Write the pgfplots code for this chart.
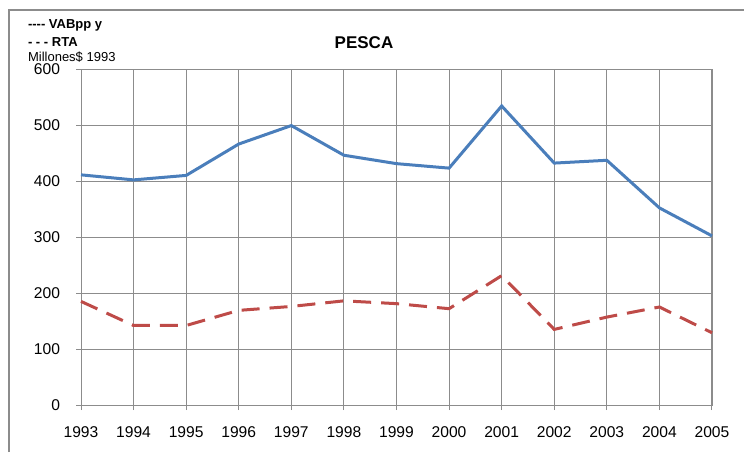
\documentclass[border=0pt]{standalone}
\usepackage{fontspec}
\setmainfont{Liberation Sans}
\usepackage{pgfplots}
\pgfplotsset{compat=1.18}

\definecolor{vabblue}{HTML}{4A7EBB}
\definecolor{rtared}{HTML}{BE4B48}
\definecolor{gridgray}{HTML}{8C8C8C}

\begin{document}
\begin{tikzpicture}[x=0.5pt,y=0.5pt]
\useasboundingbox (0,0) rectangle (744,452);
% outer chart frame (only top and left edges visible)
\draw[gridgray, line width=0.8pt] (9,0) -- (9,442) -- (744,442);

\begin{axis}[
    at={(40.5pt,23.5pt)}, anchor=south west,
    scale only axis, width=315.5pt, height=168pt,
    xmin=1993, xmax=2005, ymin=0, ymax=600,
    xtick={1993,...,2005}, ytick={0,100,...,600},
    grid=major,
    major grid style={gridgray, line width=0.5pt},
    axis line style={gridgray, line width=0.5pt},
    tick style={gridgray, line width=0.5pt},
    tick align=outside, major tick length=2.5pt,
    xtick pos=bottom, ytick pos=left,
    /pgf/number format/assume math mode=true,
    /pgf/number format/1000 sep={},
    ticklabel style={font=\fontsize{7.8}{9}\selectfont, text=black},
    xticklabel style={yshift=-5pt},
    yticklabel style={xshift=-4.5pt},
    clip=false,
]
\addplot[vabblue, line width=1.5pt] coordinates {
  (1993,411) (1994,402) (1995,410) (1996,466) (1997,499) (1998,446)
  (1999,431) (2000,423) (2001,534) (2002,432) (2003,437) (2004,352)
  (2005,302)};
\addplot[rtared, line width=1.5pt, dash pattern=on 9pt off 5pt] coordinates {
  (1993,185) (1994,142) (1995,142) (1996,169) (1997,176) (1998,186)
  (1999,181) (2000,172) (2001,231) (2002,135) (2003,157) (2004,175)
  (2005,129)};
\end{axis}

\node[font=\bfseries\fontsize{8.5}{10}\selectfont] at (364,409) {PESCA};
\node[anchor=west, font=\bfseries\fontsize{6.5}{7}\selectfont] at (21,427) {-{}-{}-{}- VABpp y};
\node[anchor=west, font=\bfseries\fontsize{6.5}{7}\selectfont] at (21,410) {- - - RTA};
\node[anchor=west, font=\fontsize{6.5}{7}\selectfont] at (21,395) {Millones\$ 1993};
\end{tikzpicture}
\end{document}
